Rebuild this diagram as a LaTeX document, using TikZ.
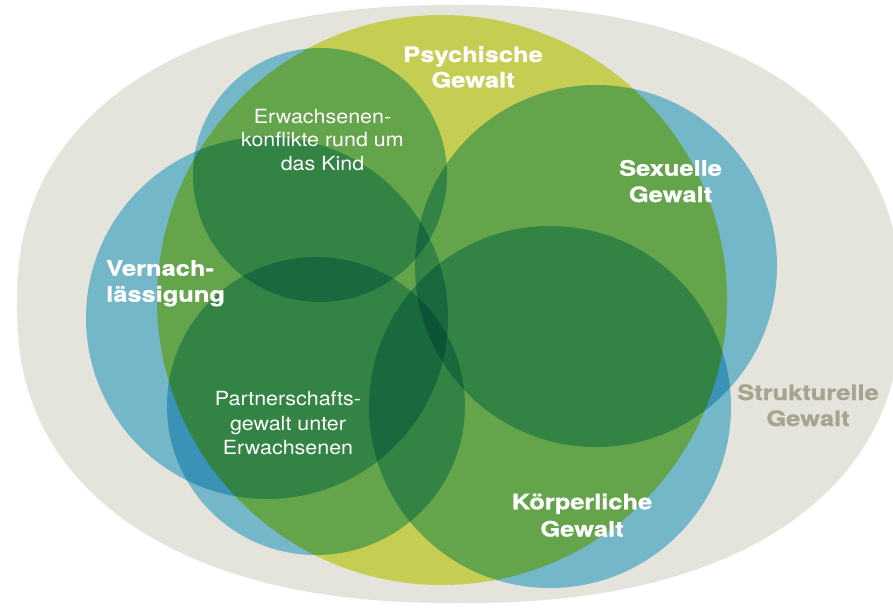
\documentclass[tikz,border=0pt]{standalone}
\usepackage{fontspec}
\newfontfamily\regfont{texgyreheros-regular.otf}[FakeStretch=1.1]
\newfontfamily\heavyfont{texgyreheros-bold.otf}[FakeStretch=1.2, FakeBold=1]
\definecolor{graybg}{HTML}{E4E4DC}
\definecolor{yellowc}{HTML}{C6CD53}
\definecolor{bluec}{HTML}{81CDE9}
\definecolor{structc}{HTML}{A8A38F}
\begin{document}
\begin{tikzpicture}[x=1pt,y=-1pt,
  biglabel/.style={text=white, font=\heavyfont\fontsize{21.2}{24}\selectfont, anchor=base, inner sep=0pt},
  smalllabel/.style={text=white, font=\regfont\fontsize{19.5}{24}\selectfont, anchor=base, inner sep=0pt},
  bluecircle/.style={fill=bluec}]
\useasboundingbox (0,0) rectangle (893,607);
% Strukturelle Gewalt: background superellipse
\fill[graybg] plot[domain=0.3:360.3, samples=240]
  ({459+442*sign(cos(\x))*abs(cos(\x))^(0.87)}, {304+299*sign(sin(\x))*abs(sin(\x))^(0.87)}) -- cycle;
% Psychische Gewalt
\fill[yellowc] (442,300) circle[radius=285pt];
% blue circles, multiplied
\begin{scope}[blend mode=multiply]
  \fill[bluecircle] (320,175) circle[radius=127pt];  % Erwachsenenkonflikte
  \fill[bluecircle] (267,318) circle[radius=181pt];  % Vernachlaessigung
  \fill[bluecircle] (316,406) circle[radius=149pt];  % Partnerschaftsgewalt
  \fill[bluecircle] (596,266) circle[radius=181pt];  % Sexuelle Gewalt
  \fill[bluecircle] (550,407) circle[radius=181pt];  % Koerperliche Gewalt
\end{scope}
% labels
\node[biglabel] (psy1) at (473,62) {Psychische};
\node[biglabel] (psy2) at (473,87.5) {Gewalt};
\node[smalllabel] (ek1) at (322.5,123.3) {Erwachsenen-};
\node[smalllabel] (ek2) at (322.5,146.9) {konflikte rund um};
\node[smalllabel] (ek3) at (322.5,170.5) {das Kind};
\node[biglabel] (sx1) at (670.5,175.7) {Sexuelle};
\node[biglabel] (sx2) at (670.5,202) {Gewalt};
\node[biglabel, anchor=base west] (vn1) at (106,275.7) {Vernach-};
\node[biglabel, anchor=base west] (vn2) at (106,301.7) {lässigung};
\node[smalllabel] (pg1) at (288,405) {Partnerschafts-};
\node[smalllabel] (pg2) at (288,430) {gewalt unter};
\node[smalllabel] (pg3) at (288,454) {Erwachsenen};
\node[biglabel] (kg1) at (582,509.3) {Körperliche};
\node[biglabel] (kg2) at (582,536.5) {Gewalt};
\node[biglabel, text=structc] (st1) at (808,400) {Strukturelle};
\node[biglabel, text=structc] (st2) at (808,426) {Gewalt};
\end{tikzpicture}
\end{document}
